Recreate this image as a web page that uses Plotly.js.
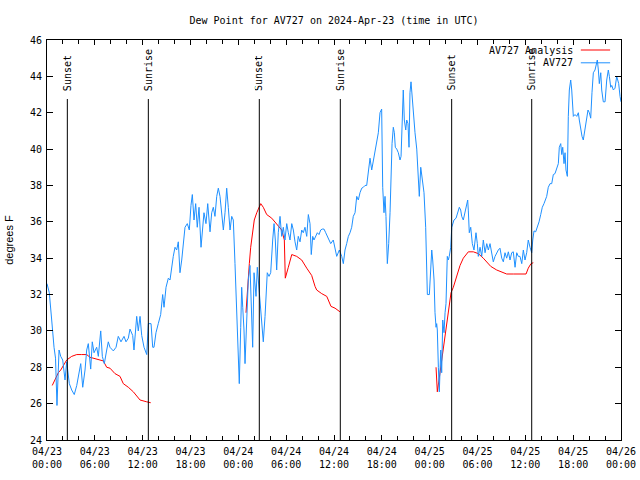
<!DOCTYPE html>
<html>
<head>
<meta charset="utf-8">
<script src="https://cdn.plot.ly/plotly-3.0.1.min.js"></script>
<style>html,body{margin:0;padding:0;background:#fff;}#chart{width:640px;height:480px;}</style>
</head>
<body>
<div id="chart"></div>
<script>
// ---- Data (hours since 2024-04-23 00:00 UTC) ----
const startDate = "2024-04-23";
const hoursObs = [0,0.29,0.59,0.69,0.88,1.07,1.25,1.51,1.72,1.97,2.26,2.47,2.80,3.10,3.42,3.73,4.05,4.23,4.48,4.77,4.98,5.18,5.48,5.68,5.90,6.23,6.44,6.74,6.94,7.19,7.49,7.69,7.90,8.32,8.66,8.94,9.28,9.66,9.91,10.20,10.41,10.75,10.91,11.25,11.45,11.67,11.88,12.17,12.51,12.71,13.05,13.26,13.42,13.67,13.96,14.26,14.51,14.68,14.93,15.22,15.43,15.64,15.84,16.06,16.27,16.47,16.68,16.90,17.10,17.31,17.60,17.85,18.06,18.23,18.44,18.65,18.85,19.07,19.32,19.53,19.69,19.94,20.16,20.45,20.66,20.86,21.07,21.29,21.49,21.70,21.91,22.12,22.33,22.54,22.74,22.96,23.17,23.37,23.58,23.80,24.00,24.12,24.30,24.42,24.55,24.71,24.84,25.05,25.25,25.46,25.68,25.80,25.97,26.22,26.38,26.63,26.84,27.01,27.13,27.35,27.47,27.63,27.85,28.06,28.31,28.48,28.64,28.81,29.01,29.23,29.44,29.64,29.85,30.07,30.27,30.48,30.70,30.90,31.11,31.32,31.52,31.74,31.95,32.15,32.36,32.58,32.78,32.99,33.15,33.33,33.49,33.71,33.91,34.12,34.33,34.53,34.75,34.96,35.16,35.37,35.59,35.91,36.13,36.34,36.67,36.97,37.17,37.38,37.59,37.80,38.01,38.22,38.42,38.64,38.85,39.05,39.26,39.48,39.68,39.89,40.10,40.30,40.52,40.73,40.93,41.14,41.36,41.56,41.77,41.98,42.11,42.27,42.40,42.52,42.69,42.86,43.03,43.15,43.28,43.44,43.57,43.69,43.87,44.07,44.28,44.41,44.57,44.69,44.82,45.00,45.12,45.28,45.41,45.53,45.66,45.79,45.95,46.16,46.38,46.58,46.70,46.88,47.08,47.29,47.50,47.63,47.71,47.96,48.13,48.26,48.38,48.55,48.67,48.80,48.88,48.96,49.09,49.21,49.39,49.51,49.64,49.80,49.93,50.05,50.21,50.34,50.46,50.64,50.77,50.89,51.05,51.31,51.47,51.72,51.89,52.02,52.22,52.43,52.65,52.77,52.85,52.97,53.15,53.35,53.56,53.69,53.81,53.98,54.10,54.32,54.53,54.73,54.95,55.16,55.36,55.57,55.78,55.98,56.20,56.41,56.61,56.82,57.04,57.24,57.45,57.66,57.87,58.08,58.29,58.49,58.71,58.92,59.12,59.33,59.55,59.75,59.96,60.17,60.37,60.59,60.80,60.93,61.09,61.30,61.50,61.72,61.93,62.13,62.34,62.68,62.88,63.10,63.31,63.51,63.72,63.94,64.14,64.26,64.44,64.57,64.69,64.85,64.98,65.10,65.27,65.39,65.52,65.69,65.82,66.02,66.23,66.45,66.65,66.77,66.95,67.11,67.27,67.40,67.57,67.70,67.86,68.03,68.20,68.36,68.53,68.74,68.87,69.03,69.16,69.28,69.46,69.58,69.78,70.00,70.21,70.41,70.54,70.71,70.84,71.04,71.25,71.46,71.59,71.71,71.88,72.00];
const dewObs = [32.6,32.1,30.6,29.9,29.1,28.5,25.9,28.95,28.6,28.4,27.3,28.3,27.1,26.75,26.5,27.0,27.7,28.2,26.9,27.85,28.95,29.3,27.9,29.4,28.8,29.1,28.6,30.0,28.6,28.2,28.95,29.4,29.1,28.9,29.1,29.7,29.4,29.7,29.4,29.6,30.1,29.75,28.95,30.8,30.0,30.8,29.75,29.1,28.7,30.4,30.4,29.1,29.1,29.9,30.4,30.9,32.0,31.3,32.4,32.9,32.8,33.6,34.1,34.6,34.45,34.9,33.2,33.9,34.7,35.7,35.9,35.55,36.9,37.5,36.1,37.0,35.7,36.8,34.6,35.55,36.5,35.9,37.0,35.45,36.5,36.8,36.3,37.4,37.85,37.4,36.5,35.55,36.5,37.85,36.8,35.55,36.3,36.1,33.7,31.0,28.2,27.1,30.2,32.4,31.3,30.05,28.2,30.6,32.8,33.6,31.0,29.1,33.2,31.9,33.5,32.25,30.8,30.05,29.4,30.8,32.25,33.2,33.0,33.2,35.0,35.9,35.0,33.35,35.4,36.3,35.2,35.7,35.0,35.9,35.4,35.0,35.9,35.55,34.9,34.45,35.2,34.9,35.55,35.4,35.7,35.2,36.4,35.9,34.2,35.2,35.0,35.2,35.4,35.3,35.55,35.6,35.6,35.4,35.2,35.0,34.8,35.0,34.6,34.1,34.45,34.1,33.7,34.45,34.8,35.2,35.4,35.7,36.3,36.5,37.4,37.2,37.6,37.85,37.9,38.0,38.0,38.85,39.5,38.85,39.4,40.0,40.5,40.9,42.0,42.2,37.9,36.5,37.4,36.3,33.7,34.8,36.5,38.85,40.3,41.2,40.9,40.1,40.0,39.8,39.4,39.6,42.5,43.25,41.6,41.05,41.6,41.4,40.1,43.1,43.7,42.9,41.8,40.9,40.0,38.1,37.4,39.0,38.3,37.6,35.7,33.3,32.0,32.0,34.0,34.45,33.9,32.8,31.0,30.2,30.4,30.05,28.0,26.65,28.95,27.7,30.6,29.9,31.0,31.5,34.1,33.9,34.1,34.6,35.7,35.9,36.1,36.2,36.4,36.8,36.65,36.3,36.1,36.5,36.9,37.2,36.6,35.4,35.7,34.8,34.45,35.0,35.4,34.8,34.1,34.6,34.1,35.0,34.3,34.8,34.45,34.8,34.3,33.8,34.1,34.3,34.45,34.55,34.0,33.8,34.3,34.0,34.35,33.9,34.3,34.35,33.5,34.3,34.1,34.1,33.7,34.45,33.9,34.3,35.0,34.6,34.3,35.0,35.5,35.45,35.7,36.0,36.4,36.8,37.0,37.4,37.9,38.1,38.1,38.6,38.65,38.9,39.2,40.1,40.3,39.7,40.1,39.2,39.8,38.85,38.5,41.8,43.25,43.8,43.25,41.8,41.9,41.8,42.0,41.6,41.05,40.7,40.5,40.9,41.4,41.8,42.15,42.0,41.7,43.1,44.2,44.35,44.7,44.9,44.35,43.6,44.2,43.25,42.6,42.6,43.8,44.35,44.0,43.4,43.5,43.25,43.35,44.0,43.8,43.6,42.9,42.6];

const hoursAnalysis = [0.66,1.00,1.42,1.72,2.04,2.47,3.10,3.73,4.35,4.98,5.39,5.81,6.44,7.06,7.49,7.90,8.53,9.16,9.57,10.20,10.83,11.25,11.67,12.51,13.01,
  19.0,
  24.96,25.13,25.38,25.55,25.80,26.00,26.31,26.59,26.81,27.13,27.56,28.19,28.81,29.44,29.77,29.89,30.27,30.70,31.32,31.95,32.58,33.20,33.62,33.83,34.46,35.09,35.62,36.13,36.75,
  43.0,
  48.80,48.96,49.17,49.39,49.59,49.80,50.05,50.26,50.46,50.68,50.97,51.39,51.81,52.22,52.85,53.48,54.10,54.73,55.16,55.66,56.41,57.04,57.66,58.49,59.33,60.09,60.37,60.71,61.00];
const dewAnalysis = [27.0,27.3,27.7,27.85,28.1,28.4,28.6,28.7,28.7,28.7,28.55,28.5,28.4,28.35,28.0,27.95,27.65,27.5,27.1,26.9,26.65,26.4,26.2,26.1,26.05,
  null,
  31.0,32.25,33.7,34.6,35.55,36.1,36.5,36.8,37.0,36.8,36.4,36.2,35.9,35.55,35.0,32.9,33.5,34.2,34.1,33.9,33.45,33.05,32.45,32.25,32.05,31.9,31.35,31.25,31.05,
  null,
  28.0,26.65,27.3,28.0,28.8,29.5,30.2,30.8,31.5,32.1,32.4,33.0,33.6,34.0,34.35,34.35,34.25,34.0,33.8,33.55,33.35,33.25,33.13,33.13,33.13,33.13,33.45,33.7,33.75];

const sunEventHours = [2.55, 12.71, 26.63, 36.79, 50.76, 60.80];
const sunEventLabels = ["Sunset", "Sunrise", "Sunset", "Sunrise", "Sunset", "Sunrise"];

const seriesNames = ["AV727 Analysis", "AV727"];
const seriesColors = ["#ff0000", "#1e90ff"];

// ---- helpers ----
const baseMs = Date.parse(startDate + "T00:00:00Z");
function toTime(h) {
  return new Date(baseMs + Math.round(h * 3600000)).toISOString().replace("T", " ").slice(0, 19);
}

const mono = "DejaVu Sans Mono, Liberation Mono, monospace";

const traces = [
  {x: hoursAnalysis.map(toTime), y: dewAnalysis, type: "scatter", mode: "lines",
   line: {color: seriesColors[0], width: 1}, connectgaps: false, name: seriesNames[0], showlegend: false},
  {x: hoursObs.map(toTime), y: dewObs, type: "scatter", mode: "lines",
   line: {color: seriesColors[1], width: 1}, name: seriesNames[1], showlegend: false}
];

const shapes = [];
const annotations = [];
sunEventHours.forEach((h, i) => {
  shapes.push({type: "line", xref: "x", yref: "paper", x0: toTime(h), x1: toTime(h), y0: 0, y1: 0.8525,
    line: {color: "#000", width: 1}});
  annotations.push({xref: "x", yref: "paper", x: toTime(h), y: 0.868, text: sunEventLabels[i],
    textangle: -90, showarrow: false, xanchor: "center", yanchor: "bottom",
    font: {family: mono, size: 10, color: "#000"}});
});

// legend (gnuplot style: text then sample line)
const legendY = [0.975, 0.943];
seriesNames.forEach((n, i) => {
  annotations.push({xref: "paper", yref: "paper", x: 0.92, y: legendY[i], text: n, showarrow: false,
    xanchor: "right", yanchor: "middle", font: {family: mono, size: 10, color: "#000"}});
  shapes.push({type: "line", xref: "paper", yref: "paper", x0: 0.930, x1: 0.981, y0: legendY[i], y1: legendY[i],
    line: {color: seriesColors[i], width: 1}});
});

const layout = {
  width: 640, height: 480,
  margin: {l: 47, r: 19, t: 40, b: 40},
  paper_bgcolor: "#fff", plot_bgcolor: "#fff",
  showlegend: false,
  title: {text: "Dew Point for AV727 on 2024-Apr-23 (time in UTC)", font: {family: mono, size: 10, color: "#000"},
    x: 0.5, xref: "paper", xanchor: "center", y: 0.958, yanchor: "middle"},
  xaxis: {
    type: "date", range: [toTime(0), toTime(72)],
    dtick: 6 * 3600000, tick0: toTime(0), tickformat: "%m/%d<br>%H:%M",
    ticks: "inside", ticklen: 5, tickcolor: "#000", tickwidth: 1,
    minor: {dtick: 2 * 3600000, ticks: "inside", ticklen: 4, tickcolor: "#000", tickwidth: 1, showgrid: false},
    showline: true, linecolor: "#000", linewidth: 1, mirror: "allticks",
    showgrid: false, zeroline: false,
    tickfont: {family: mono, size: 10, color: "#000"}, ticklabelstandoff: 2
  },
  yaxis: {
    range: [24, 46], dtick: 2, tick0: 24,
    ticks: "inside", ticklen: 6, tickcolor: "#000", tickwidth: 1,
    showline: true, linecolor: "#000", linewidth: 1, mirror: "allticks",
    showgrid: false, zeroline: false,
    tickfont: {family: mono, size: 10, color: "#000"}, ticklabelstandoff: 2,
    title: {text: "degrees F", font: {family: "Liberation Sans, Arial, sans-serif", size: 11, color: "#000"}, standoff: 14}
  },
  shapes: shapes,
  annotations: annotations
};

Plotly.newPlot("chart", traces, layout, {staticPlot: true, displayModeBar: false});
</script>
</body>
</html>
